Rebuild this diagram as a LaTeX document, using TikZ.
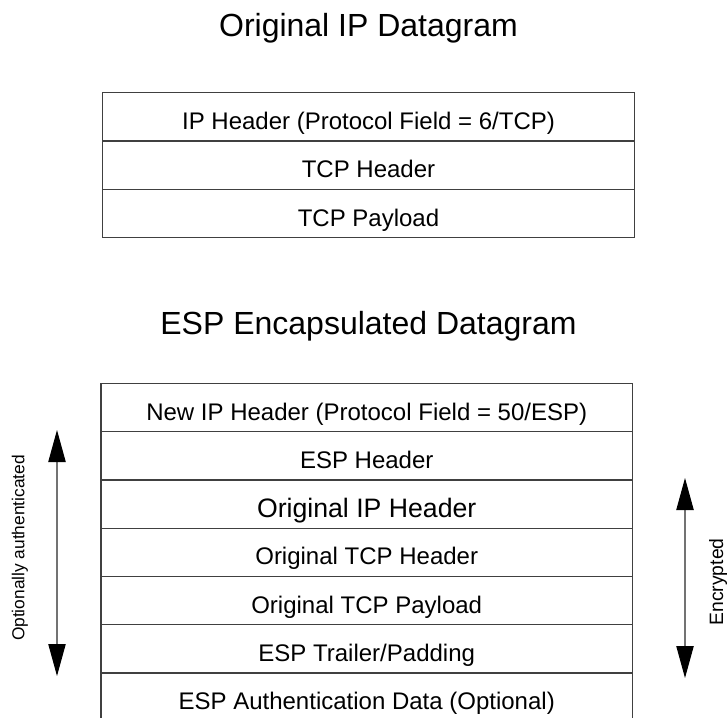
\documentclass[tikz,border=0pt]{standalone}
\usepackage{fontspec}
\setmainfont{Liberation Sans}
\usetikzlibrary{positioning,arrows.meta}

\tikzset{
  field/.style={draw=black!75, line width=1pt, outer sep=0pt, inner sep=0pt,
    minimum width=398.7pt, minimum height=36.2pt,
    text height=19pt, text depth=0pt,
    font=\fontsize{18}{21}\selectfont},
  bigfield/.style={field, text height=20.5pt, font=\fontsize{20}{24}\selectfont},
  heading/.style={anchor=base, font=\fontsize{24}{28}\selectfont},
  span/.style={draw=black!55, line width=0.8pt,
    {Triangle[length=24pt,width=13pt,color=black]}-{Triangle[length=24pt,width=13pt,color=black]}},
  sidelabel/.style={rotate=90, inner sep=0pt}
}

\begin{document}
\begin{tikzpicture}[x=0.75pt, y=-0.75pt]
    \useasboundingbox (0,0) rectangle (727,717);

    % original datagram
    \node[heading] (origTitle) at (368.5,37) {Original IP Datagram};
    \node[field] (ipHdr) at (368.5,116.8) {IP Header (Protocol Field = 6/TCP)};
    \node[field, below=0pt of ipHdr] (tcpHdr) {TCP Header};
    \node[field, below=0pt of tcpHdr] (tcpPay) {TCP Payload};

    % ESP encapsulated datagram
    \node[heading] (espTitle) at (368.5,334) {ESP Encapsulated Datagram};
    \node[field] (newIp) at (366.7,407.5) {New IP Header (Protocol Field = 50/ESP)};
    \node[field, below=0pt of newIp] (espHdr) {ESP Header};
    \node[bigfield, below=0pt of espHdr] (origIp) {Original IP Header};
    \node[field, below=0pt of origIp] (origTcp) {Original TCP Header};
    \node[field, below=0pt of origTcp] (origPay) {Original TCP Payload};
    \node[field, below=0pt of origPay] (espTrl) {ESP Trailer/Padding};
    \node[field, below=0pt of espTrl] (espAuth) {ESP Authentication Data (Optional)};

    % coverage arrows
    \coordinate (authTop) at (57,430);
    \coordinate (authBot) at (57,676);
    \coordinate (encTop) at (685,478);
    \coordinate (encBot) at (685,678);

    \draw[span] (authTop) -- (authBot);
    \draw[span] (encTop) -- (encBot);

    \node[sidelabel, font=\fontsize{13}{15}\selectfont] (authLbl) at (20,548) {Optionally authenticated};
    \node[sidelabel, font=\fontsize{14.5}{17}\selectfont] (encLbl) at (718,582) {Encrypted};
  \end{tikzpicture}
\end{document}
